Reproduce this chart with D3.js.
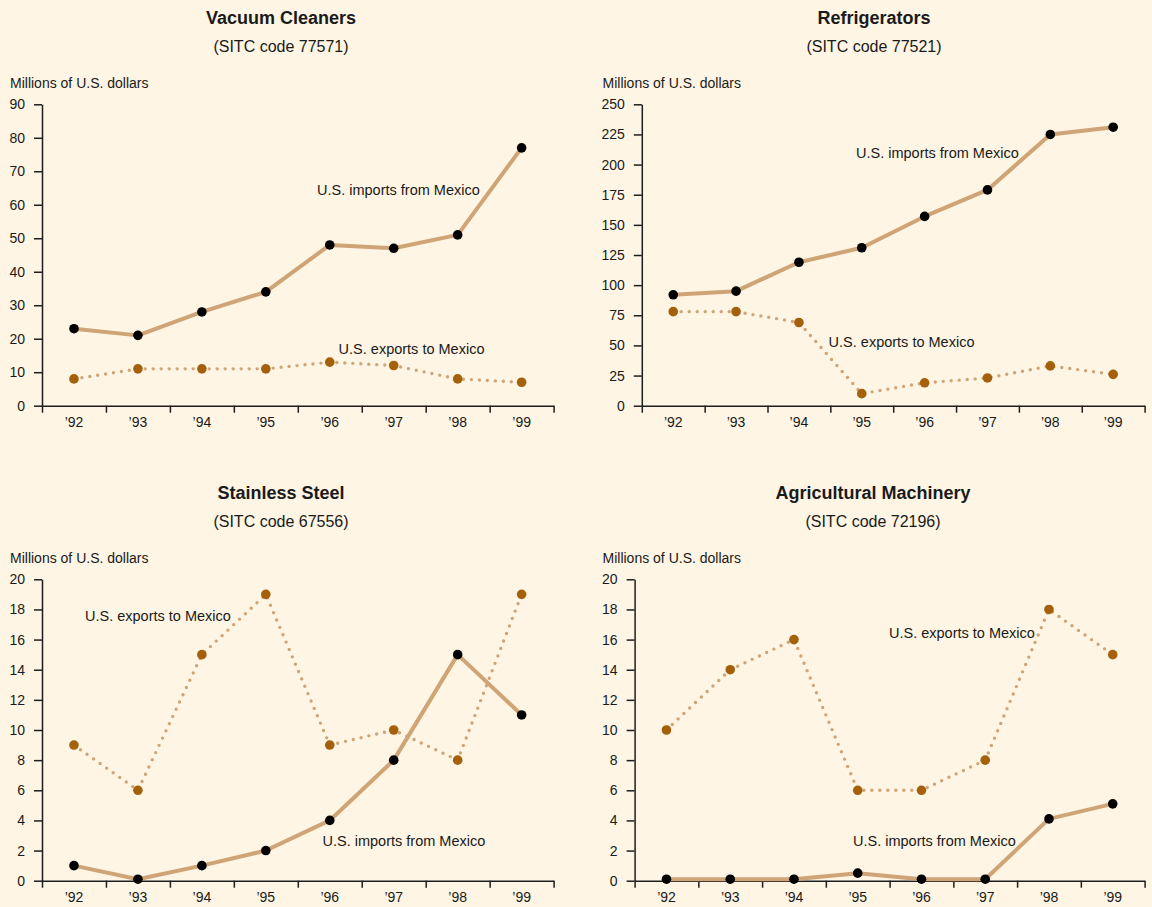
<!DOCTYPE html>
<html>
<head>
<meta charset="utf-8">
<script src="https://cdn.jsdelivr.net/npm/d3@7"></script>
<style>
  html, body { margin: 0; padding: 0; background: #FEF5E4; }
  svg { display: block; font-family: "Liberation Sans", Arial, sans-serif; }
</style>
</head>
<body>
<svg id="chart" width="1152" height="907"></svg>
<script>
// ---------- DATA ----------
const years = ["’92", "’93", "’94", "’95", "’96", "’97", "’98", "’99"];

const titles = ["Vacuum Cleaners", "Refrigerators", "Stainless Steel", "Agricultural Machinery"];
const codes = ["(SITC code 77571)", "(SITC code 77521)", "(SITC code 67556)", "(SITC code 72196)"];
const unitLabel = "Millions of U.S. dollars";
const importsLabel = "U.S. imports from Mexico";
const exportsLabel = "U.S. exports to Mexico";

const vacuumImports = [23, 21, 28, 34, 48, 47, 51, 77];
const vacuumExports = [8, 11, 11, 11, 13, 12, 8, 7];

const fridgeImports = [92, 95, 119, 131, 157, 179, 225, 231];
const fridgeExports = [78, 78, 69, 10, 19, 23, 33, 26];

const steelImports = [1, 0.1, 1, 2, 4, 8, 15, 11];
const steelExports = [9, 6, 15, 19, 9, 10, 8, 19];

const agriImports = [0.1, 0.1, 0.1, 0.5, 0.1, 0.1, 4.1, 5.1];
const agriExports = [10, 14, 16, 6, 6, 8, 18, 15];

const vacuumTicks = [0, 10, 20, 30, 40, 50, 60, 70, 80, 90];
const fridgeTicks = [0, 25, 50, 75, 100, 125, 150, 175, 200, 225, 250];
const steelTicks = [0, 2, 4, 6, 8, 10, 12, 14, 16, 18, 20];
const agriTicks = [0, 2, 4, 6, 8, 10, 12, 14, 16, 18, 20];

// ---------- LAYOUT / STYLE ----------
const panels = [
  { title: titles[0], code: codes[0], imports: vacuumImports, exports: vacuumExports, ticks: vacuumTicks,
    left: 42, right: 553.6, bottom: 405.7, top: 104.3, cx: 281, unitX: 10,
    impLab: [317, 190], expLab: [338.6, 349] },
  { title: titles[1], code: codes[1], imports: fridgeImports, exports: fridgeExports, ticks: fridgeTicks,
    left: 641.8, right: 1144.6, bottom: 405.7, top: 104.3, cx: 874, unitX: 602.5,
    impLab: [856, 152.7], expLab: [828.6, 341.7] },
  { title: titles[2], code: codes[2], imports: steelImports, exports: steelExports, ticks: steelTicks,
    left: 42, right: 553.6, bottom: 880.7, top: 579.3, cx: 281, unitX: 10,
    impLab: [322.5, 840.7], expLab: [85, 615.7] },
  { title: titles[3], code: codes[3], imports: agriImports, exports: agriExports, ticks: agriTicks,
    left: 634.6, right: 1144.6, bottom: 880.7, top: 579.3, cx: 873, unitX: 602.5,
    impLab: [853, 840.7], expLab: [889, 632.3] }
];

const bg = "#FEF5E4";
const lineColor = "#CFA476";
const exportDot = "#A5600B";
const importDot = "#000000";
const axisColor = "#1E1E1E";
const textColor = "#1A1A1A";

const svg = d3.select("#chart");
svg.append("rect").attr("width", 1152).attr("height", 907).attr("fill", bg);

panels.forEach(p => {
  const g = svg.append("g");
  const x = d3.scaleBand().domain(years).range([p.left, p.right]).paddingInner(0).paddingOuter(0);
  const xEdges = d3.scaleLinear().domain([0, years.length]).range([p.left, p.right]);
  const y = d3.scaleLinear().domain([0, d3.max(p.ticks)]).range([p.bottom, p.top]);
  const cx = d => x(d) + x.bandwidth() / 2;

  // titles
  g.append("text").attr("x", p.cx).attr("y", p.top - 87.3 + 6.5)
    .attr("text-anchor", "middle").attr("font-size", 18).attr("font-weight", "bold")
    .attr("fill", textColor).text(p.title);
  g.append("text").attr("x", p.cx).attr("y", p.top - 58.3 + 5.8)
    .attr("text-anchor", "middle").attr("font-size", 16)
    .attr("fill", textColor).text(p.code);
  g.append("text").attr("x", p.unitX).attr("y", p.top - 21.8 + 5)
    .attr("font-size", 14).attr("fill", textColor).text(unitLabel);

  // y axis
  const yAxis = d3.axisLeft(y).tickValues(p.ticks).tickSize(8).tickSizeOuter(0).tickPadding(9)
    .tickFormat(d3.format("d"));
  const ya = g.append("g").attr("transform", `translate(${p.left},0)`).call(yAxis);
  ya.select(".domain").attr("stroke", axisColor).attr("stroke-width", 1.5);
  ya.selectAll(".tick line").attr("stroke", axisColor).attr("stroke-width", 1.5);
  ya.selectAll(".tick text").attr("font-size", 14).attr("fill", textColor)
    .attr("font-family", "Liberation Sans, Arial, sans-serif");

  // x axis: tick marks at band edges
  const xAxis = d3.axisBottom(xEdges).tickValues(d3.range(years.length + 1)).tickSize(7)
    .tickSizeOuter(0).tickFormat("");
  const xa = g.append("g").attr("transform", `translate(0,${p.bottom})`).call(xAxis);
  xa.select(".domain").attr("stroke", axisColor).attr("stroke-width", 1.5);
  xa.selectAll(".tick line").attr("stroke", axisColor).attr("stroke-width", 1.5);

  // x labels at band centers
  g.selectAll(".xl").data(years).join("text")
    .attr("x", d => cx(d)).attr("y", p.bottom + 21)
    .attr("text-anchor", "middle").attr("font-size", 14).attr("fill", textColor)
    .text(d => d);

  const line = d3.line().x((d, i) => cx(years[i])).y(d => y(d));

  // exports (dotted)
  g.append("path").datum(p.exports).attr("d", line)
    .attr("fill", "none").attr("stroke", lineColor).attr("stroke-width", 3.4)
    .attr("stroke-linecap", "round").attr("stroke-dasharray", "0 8");
  // imports (solid)
  g.append("path").datum(p.imports).attr("d", line)
    .attr("fill", "none").attr("stroke", lineColor).attr("stroke-width", 4)
    .attr("stroke-linejoin", "round");

  g.selectAll(".ed").data(p.exports).join("circle")
    .attr("cx", (d, i) => cx(years[i])).attr("cy", d => y(d)).attr("r", 4.8)
    .attr("fill", exportDot);
  g.selectAll(".id").data(p.imports).join("circle")
    .attr("cx", (d, i) => cx(years[i])).attr("cy", d => y(d)).attr("r", 4.8)
    .attr("fill", importDot);

  g.append("text").attr("x", p.impLab[0]).attr("y", p.impLab[1]).attr("dy", "0.36em")
    .attr("font-size", 14.5).attr("fill", textColor).text(importsLabel);
  g.append("text").attr("x", p.expLab[0]).attr("y", p.expLab[1]).attr("dy", "0.36em")
    .attr("font-size", 14.5).attr("fill", textColor).text(exportsLabel);
});
</script>
</body>
</html>
